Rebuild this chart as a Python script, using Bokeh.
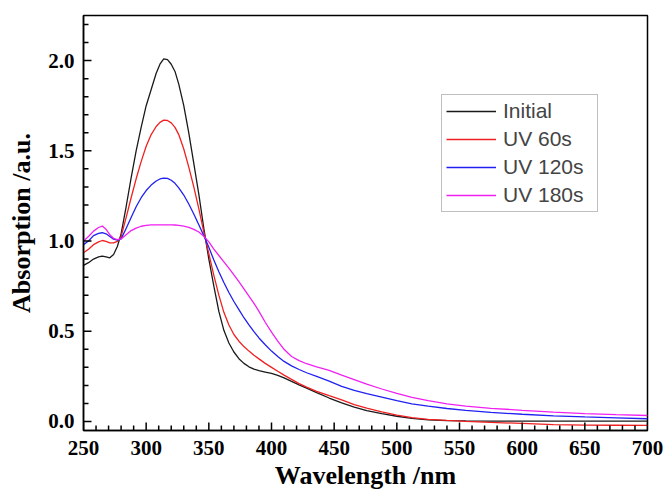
from bokeh.plotting import figure
from bokeh.models import Range1d, FixedTicker, Legend, LegendItem
from bokeh.embed import file_html
from bokeh.resources import INLINE

wavelength = [250, 254, 258, 262, 265, 268, 271, 274, 277, 280, 284, 288, 292, 296, 300,
              304, 308, 311, 314, 317, 320, 323, 326, 330, 334, 338, 342, 346, 350, 354,
              358, 362, 366, 370, 374, 378, 382, 386, 390, 395, 400, 405, 410, 416, 422,
              428, 436, 446, 456, 466, 476, 488, 500, 512, 525, 540, 555, 575, 600, 625,
              650, 675, 700]

initial = [0.865, 0.88, 0.90, 0.912, 0.917, 0.912, 0.907, 0.925, 0.97, 1.04, 1.19, 1.35, 1.50, 1.63, 1.75,
           1.84, 1.93, 1.98, 2.01, 2.005, 1.98, 1.94, 1.87, 1.75, 1.60, 1.43, 1.26, 1.07, 0.90, 0.75,
           0.61, 0.505, 0.435, 0.385, 0.348, 0.322, 0.303, 0.29, 0.282, 0.274, 0.266, 0.256, 0.242, 0.222, 0.203,
           0.185, 0.16, 0.13, 0.103, 0.079, 0.06, 0.043, 0.029, 0.017, 0.009, 0.005, 0.003, 0.002, 0.002, 0.002,
           0.002, 0.002, 0.002]

uv60 = [0.935, 0.955, 0.98, 0.995, 1.003, 0.998, 0.99, 0.99, 0.998, 1.025, 1.13, 1.24, 1.345, 1.44, 1.525,
        1.59, 1.635, 1.658, 1.67, 1.668, 1.655, 1.63, 1.59, 1.51, 1.41, 1.30, 1.18, 1.05, 0.93, 0.81,
        0.70, 0.605, 0.535, 0.482, 0.445, 0.415, 0.39, 0.367, 0.347, 0.322, 0.30, 0.278, 0.257, 0.233, 0.21,
        0.19, 0.167, 0.143, 0.12, 0.094, 0.074, 0.053, 0.035, 0.021, 0.012, 0.006, 0.001, -0.005, -0.011, -0.017,
        -0.02, -0.021, -0.022]

uv120 = [0.98, 1.0, 1.03, 1.042, 1.046, 1.04, 1.025, 1.01, 1.005, 1.012, 1.07, 1.13, 1.19, 1.24, 1.28,
         1.31, 1.333, 1.344, 1.349, 1.347, 1.337, 1.32, 1.295, 1.255, 1.205, 1.15, 1.09, 1.03, 0.965, 0.895,
         0.83, 0.77, 0.715, 0.665, 0.62, 0.575, 0.535, 0.498, 0.463, 0.425, 0.39, 0.36, 0.333, 0.308, 0.288,
         0.27, 0.25, 0.224, 0.195, 0.172, 0.155, 0.135, 0.115, 0.097, 0.085, 0.072, 0.062, 0.05, 0.04, 0.031,
         0.025, 0.02, 0.015]

uv180 = [1.0, 1.025, 1.055, 1.075, 1.083, 1.065, 1.035, 1.015, 1.008, 1.012, 1.035, 1.058, 1.072, 1.082, 1.087,
         1.09, 1.09, 1.09, 1.09, 1.09, 1.09, 1.089, 1.087, 1.083, 1.076, 1.065, 1.05, 1.027, 0.995, 0.955,
         0.92, 0.885, 0.85, 0.812, 0.775, 0.735, 0.695, 0.655, 0.61, 0.55, 0.495, 0.445, 0.40, 0.36, 0.337,
         0.32, 0.302, 0.283, 0.257, 0.232, 0.207, 0.18, 0.156, 0.134, 0.115, 0.097, 0.085, 0.073, 0.062, 0.052,
         0.044, 0.038, 0.033]

series_names = ["Initial", "UV 60s", "UV 120s", "UV 180s"]
series_values = [initial, uv60, uv120, uv180]
series_colors = ["#1a1a1a", "#f02020", "#2020f0", "#f020f0"]

x_min, x_max = 250, 700
y_min, y_max = -0.05, 2.25
x_ticks = [250, 300, 350, 400, 450, 500, 550, 600, 650, 700]
x_minor = [v for v in range(250, 701, 10) if v % 50 != 0]
y_ticks = [0.0, 0.5, 1.0, 1.5, 2.0]
y_minor = [0.1, 0.2, 0.3, 0.4, 0.6, 0.7, 0.8, 0.9, 1.1, 1.2, 1.3, 1.4, 1.6, 1.7, 1.8, 1.9, 2.1, 2.2]
y_tick_labels = ["0.0", "0.5", "1.0", "1.5", "2.0"]

W, H = 667, 492
B_LEFT, B_RIGHT, B_TOP, B_BOTTOM = 83, 20, 15, 60
frame_w = W - B_LEFT - B_RIGHT
frame_h = H - B_TOP - B_BOTTOM
major_px, minor_px = 8, 5
dy_major = major_px * (y_max - y_min) / frame_h
dy_minor = minor_px * (y_max - y_min) / frame_h
dx_major = major_px * (x_max - x_min) / frame_w
dx_minor = minor_px * (x_max - x_min) / frame_w

p = figure(width=W, height=H, x_range=Range1d(x_min, x_max), y_range=Range1d(y_min, y_max),
           output_backend="svg", toolbar_location=None,
           min_border_left=B_LEFT, min_border_right=B_RIGHT, min_border_top=B_TOP,
           min_border_bottom=B_BOTTOM)

renderers = []
for name, vals, col in zip(series_names, series_values, series_colors):
    r = p.line(wavelength, vals, line_color=col, line_width=1.3)
    renderers.append((name, r))

# inward tick marks drawn from the tick lists
tick_kw = dict(line_color="black", line_width=1.5)
p.segment(x0=x_ticks, y0=[y_min] * len(x_ticks), x1=x_ticks,
          y1=[y_min + dy_major] * len(x_ticks), **tick_kw)
p.segment(x0=x_minor, y0=[y_min] * len(x_minor), x1=x_minor,
          y1=[y_min + dy_minor] * len(x_minor), **tick_kw)
p.segment(x0=[x_min] * len(y_ticks), y0=y_ticks, x1=[x_min + dx_major] * len(y_ticks),
          y1=y_ticks, **tick_kw)
p.segment(x0=[x_min] * len(y_minor), y0=y_minor, x1=[x_min + dx_minor] * len(y_minor),
          y1=y_minor, **tick_kw)

p.xgrid.visible = False
p.ygrid.visible = False
p.outline_line_color = "black"
p.outline_line_width = 1.5
p.outline_line_alpha = 1.0

p.xaxis.ticker = FixedTicker(ticks=x_ticks, minor_ticks=x_minor)
p.yaxis.ticker = FixedTicker(ticks=y_ticks, minor_ticks=y_minor)
p.yaxis.major_label_overrides = {t: l for t, l in zip(y_ticks, y_tick_labels)}

for ax in (p.xaxis[0], p.yaxis[0]):
    ax.major_tick_in = 0
    ax.major_tick_out = 0
    ax.minor_tick_in = 0
    ax.minor_tick_out = 0
    ax.axis_line_width = 1.5
    ax.major_label_text_font = "Liberation Serif"
    ax.major_label_text_font_style = "bold"
    ax.major_label_text_font_size = "21px"
    ax.major_label_text_color = "black"
    ax.axis_label_text_font = "Liberation Serif"
    ax.axis_label_text_font_style = "bold"
    ax.axis_label_text_font_size = "26px"
    ax.axis_label_text_color = "black"

p.xaxis.axis_label = "Wavelength /nm"
p.yaxis.axis_label = "Absorption /a.u."
p.xaxis.major_label_standoff = 10
p.xaxis.axis_label_standoff = 3
p.yaxis.major_label_standoff = 9
p.yaxis.axis_label_standoff = 9

legend = Legend(items=[LegendItem(label=n, renderers=[r]) for n, r in renderers],
                location=(358, 218))
legend.label_text_font = "Liberation Sans"
legend.label_text_font_size = "21px"
legend.glyph_width = 50
legend.glyph_height = 20
legend.label_height = 20
legend.label_width = 90
legend.label_standoff = 7
legend.spacing = 4
legend.padding = 4
legend.margin = 0
legend.border_line_color = "#808080"
legend.border_line_width = 1.2
legend.background_fill_color = "white"
legend.background_fill_alpha = 1.0
p.add_layout(legend, "center")

open("out.html", "w").write(file_html(p, INLINE))
